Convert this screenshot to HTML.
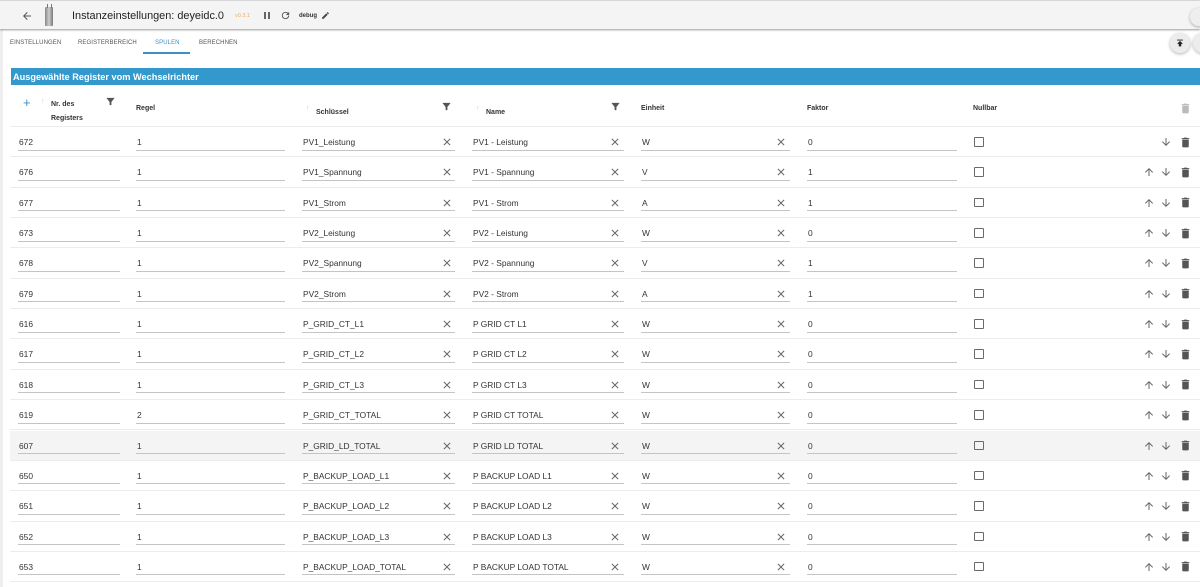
<!DOCTYPE html>
<html><head><meta charset="utf-8">
<style>
*{box-sizing:border-box;margin:0;padding:0}
body{width:1200px;height:587px;overflow:hidden;background:#fff;font-family:"Liberation Sans",Arial,sans-serif;color:#333;position:relative}
.a{position:absolute}
.top{left:0;top:0;width:1200px;height:29px;background:#f4f4f4;border-top:1px solid #d6d6d6;box-shadow:0 1px 2px rgba(0,0,0,.4)}
.tab{position:absolute;top:40px;font-size:6px;color:#555;letter-spacing:.1px}
.hd{position:absolute;font-size:7px;font-weight:bold;color:#333}
.row{position:absolute;left:10px;width:1190px;height:30.35px;border-bottom:1px solid #ececec}
.f{position:absolute;top:10px;height:13.5px;border-bottom:1px solid #c4c4c4;font-size:8.4px;line-height:10px;padding-left:1px;color:#333}
.x{position:absolute;top:9px;left:431px;width:12px;height:12px}
.cb{position:absolute;left:964px;top:10px;width:9.5px;height:9.5px;border:1.3px solid #6a6a6a;border-radius:1px}
.ic{position:absolute;top:9px;width:12px;height:12px}
.tr{position:absolute;top:8.5px;left:1168.5px;width:13px;height:13px}
</style></head><body>
<div class="a" style="left:0;top:29px;width:3px;height:558px;background:#eee"></div>
<div class="a top"></div>
<svg class="a" style="left:21px;top:10px" width="12" height="12" viewBox="0 0 24 24"><path d="M20 11H7.8l5.6-5.6L12 4l-8 8 8 8 1.4-1.4L7.8 13H20z" fill="#555"/></svg>
<div class="a" style="left:45px;top:7px;width:8px;height:19px;background:linear-gradient(90deg,#888,#ccc,#777);border-radius:1px"></div>
<div class="a" style="left:47px;top:4px;width:1px;height:4px;background:#777"></div>
<div class="a" style="left:51px;top:4px;width:1px;height:4px;background:#777"></div>
<div class="a" style="left:72px;top:9.5px;font-size:10.9px;line-height:12px;color:#222">Instanzeinstellungen: deyeidc.0</div>
<div class="a" style="left:235px;top:13px;font-size:5.5px;color:#f0b060">v0.3.1</div>
<div class="a" style="left:264px;top:12px;width:2px;height:7px;background:#666"></div>
<div class="a" style="left:268px;top:12px;width:2px;height:7px;background:#666"></div>
<svg class="a" style="left:280px;top:10px" width="11" height="11" viewBox="0 0 24 24"><path d="M17.65 6.35A7.96 7.96 0 0012 4a8 8 0 108 8h-2a6 6 0 11-1.76-4.24L13 11h7V4z" fill="#555"/></svg>
<div class="a" style="left:299px;top:12.5px;font-size:6px;font-weight:bold;color:#333">debug</div>
<svg class="a" style="left:321px;top:11px" width="9" height="9" viewBox="0 0 24 24"><path d="M3 17.25V21h3.75L17.8 9.94l-3.750-3.75zM20.7 7.04a1 1 0 000-1.41l-2.34-2.34a1 1 0 00-1.41 0l-1.83 1.83 3.75 3.75z" fill="#444"/></svg>
<div class="a" style="left:1190px;top:8px;width:18px;height:18px;border-radius:50%;background:#eee;box-shadow:0 1px 3px rgba(0,0,0,.3)"></div>

<div class="tab" style="left:10px">EINSTELLUNGEN</div>
<div class="tab" style="left:78px">REGISTERBEREICH</div>
<div class="tab" style="left:155px;color:#3d8fc9">SPULEN</div>
<div class="tab" style="left:199px">BERECHNEN</div>
<div class="a" style="left:143px;top:52px;width:47px;height:1.5px;background:#3d8fc9"></div>

<div class="a" style="left:1170px;top:33px;width:20px;height:20px;border-radius:50%;background:#ececec;box-shadow:0 1px 3px rgba(0,0,0,.3)"></div>
<svg class="a" style="left:1175px;top:38px" width="10" height="10" viewBox="0 0 24 24"><path d="M5 4h14v2H5zm0 10h4v6h6v-6h4l-7-7z" fill="#222"/></svg>
<div class="a" style="left:1193px;top:33px;width:20px;height:20px;border-radius:50%;background:#ececec;box-shadow:0 1px 3px rgba(0,0,0,.3)"></div>

<div class="a" style="left:11px;top:68px;width:1189px;height:17px;background:#3399cc"></div>
<div class="a" style="left:13px;top:71.5px;font-size:9.2px;font-weight:bold;color:#fff;line-height:10px">Ausgewählte Register vom Wechselrichter</div>

<div class="a" style="left:10px;top:126px;width:1190px;height:1px;background:#ececec"></div>
<div class="a" style="left:23px;top:96px;font-size:13px;color:#3d8fc9;line-height:14px">+</div>
<div class="a" style="left:41px;top:98px;font-size:7px;color:#ccc">↑</div>
<div class="hd" style="left:51px;top:100.5px">Nr. des</div>
<div class="hd" style="left:51px;top:114.5px">Registers</div>
<svg class="a" style="left:105px;top:96px" width="11" height="11" viewBox="0 0 24 24"><path d="M3 4h18l-7 9v7h-4v-7z" fill="#555"/></svg>
<div class="hd" style="left:136px;top:104.5px">Regel</div>
<div class="a" style="left:306px;top:105px;font-size:7px;color:#ccc">↑</div>
<div class="hd" style="left:316px;top:108.5px">Schlüssel</div>
<svg class="a" style="left:441px;top:101px" width="11" height="11" viewBox="0 0 24 24"><path d="M3 4h18l-7 9v7h-4v-7z" fill="#555"/></svg>
<div class="a" style="left:476px;top:105px;font-size:7px;color:#ccc">↑</div>
<div class="hd" style="left:486px;top:108.5px">Name</div>
<svg class="a" style="left:610px;top:101px" width="11" height="11" viewBox="0 0 24 24"><path d="M3 4h18l-7 9v7h-4v-7z" fill="#555"/></svg>
<div class="hd" style="left:641px;top:104.5px">Einheit</div>
<div class="hd" style="left:807px;top:104.5px">Faktor</div>
<div class="hd" style="left:973px;top:104.5px">Nullbar</div>
<svg class="a" style="left:1178.5px;top:101.5px" width="13" height="13" viewBox="0 0 24 24"><path d="M6 19a2 2 0 002 2h8a2 2 0 002-2V7H6zM19 4h-3.5l-1-1h-5l-1 1H5v2h14z" fill="#bbb"/></svg>

<svg width="0" height="0" style="position:absolute">
<defs>
<symbol id="X" viewBox="0 0 24 24"><path d="M19 6.4L17.6 5 12 10.6 6.4 5 5 6.4 10.6 12 5 17.6 6.4 19 12 13.4 17.6 19 19 17.6 13.4 12z" fill="#666"/></symbol>
<symbol id="U" viewBox="0 0 24 24"><path d="M4 12l1.4 1.4L11 7.8V20h2V7.8l5.6 5.6L20 12l-8-8z" fill="#666"/></symbol>
<symbol id="D" viewBox="0 0 24 24"><path d="M20 12l-1.4-1.4-5.6 5.6V4h-2v12.2l-5.6-5.6L4 12l8 8z" fill="#666"/></symbol>
<symbol id="T" viewBox="0 0 24 24"><path d="M6 19a2 2 0 002 2h8a2 2 0 002-2V7H6zM19 4h-3.5l-1-1h-5l-1 1H5v2h14z" fill="#555"/></symbol>
</defs></svg>

<div class="row" style="top:127px"><div class="f" style="left:8px;width:102px">672</div><div class="f" style="left:126px;width:149px">1</div><div class="f" style="left:292px;width:153px">PV1_Leistung</div><svg class="x"><use href="#X"/></svg><div class="f" style="left:462px;width:152px">PV1 - Leistung</div><svg class="x" style="left:599px"><use href="#X"/></svg><div class="f" style="left:631px;width:149px">W</div><svg class="x" style="left:765px"><use href="#X"/></svg><div class="f" style="left:797px;width:150px">0</div><div class="cb"></div><svg class="ic" style="left:1150px"><use href="#D"/></svg><svg class="tr"><use href="#T"/></svg></div>

<div class="row" style="top:157.35px"><div class="f" style="left:8px;width:102px">676</div><div class="f" style="left:126px;width:149px">1</div><div class="f" style="left:292px;width:153px">PV1_Spannung</div><svg class="x"><use href="#X"/></svg><div class="f" style="left:462px;width:152px">PV1 - Spannung</div><svg class="x" style="left:599px"><use href="#X"/></svg><div class="f" style="left:631px;width:149px">V</div><svg class="x" style="left:765px"><use href="#X"/></svg><div class="f" style="left:797px;width:150px">1</div><div class="cb"></div><svg class="ic" style="left:1133px"><use href="#U"/></svg><svg class="ic" style="left:1150px"><use href="#D"/></svg><svg class="tr"><use href="#T"/></svg></div>

<div class="row" style="top:187.7px"><div class="f" style="left:8px;width:102px">677</div><div class="f" style="left:126px;width:149px">1</div><div class="f" style="left:292px;width:153px">PV1_Strom</div><svg class="x"><use href="#X"/></svg><div class="f" style="left:462px;width:152px">PV1 - Strom</div><svg class="x" style="left:599px"><use href="#X"/></svg><div class="f" style="left:631px;width:149px">A</div><svg class="x" style="left:765px"><use href="#X"/></svg><div class="f" style="left:797px;width:150px">1</div><div class="cb"></div><svg class="ic" style="left:1133px"><use href="#U"/></svg><svg class="ic" style="left:1150px"><use href="#D"/></svg><svg class="tr"><use href="#T"/></svg></div>

<div class="row" style="top:218.05px"><div class="f" style="left:8px;width:102px">673</div><div class="f" style="left:126px;width:149px">1</div><div class="f" style="left:292px;width:153px">PV2_Leistung</div><svg class="x"><use href="#X"/></svg><div class="f" style="left:462px;width:152px">PV2 - Leistung</div><svg class="x" style="left:599px"><use href="#X"/></svg><div class="f" style="left:631px;width:149px">W</div><svg class="x" style="left:765px"><use href="#X"/></svg><div class="f" style="left:797px;width:150px">0</div><div class="cb"></div><svg class="ic" style="left:1133px"><use href="#U"/></svg><svg class="ic" style="left:1150px"><use href="#D"/></svg><svg class="tr"><use href="#T"/></svg></div>

<div class="row" style="top:248.4px"><div class="f" style="left:8px;width:102px">678</div><div class="f" style="left:126px;width:149px">1</div><div class="f" style="left:292px;width:153px">PV2_Spannung</div><svg class="x"><use href="#X"/></svg><div class="f" style="left:462px;width:152px">PV2 - Spannung</div><svg class="x" style="left:599px"><use href="#X"/></svg><div class="f" style="left:631px;width:149px">V</div><svg class="x" style="left:765px"><use href="#X"/></svg><div class="f" style="left:797px;width:150px">1</div><div class="cb"></div><svg class="ic" style="left:1133px"><use href="#U"/></svg><svg class="ic" style="left:1150px"><use href="#D"/></svg><svg class="tr"><use href="#T"/></svg></div>

<div class="row" style="top:278.75px"><div class="f" style="left:8px;width:102px">679</div><div class="f" style="left:126px;width:149px">1</div><div class="f" style="left:292px;width:153px">PV2_Strom</div><svg class="x"><use href="#X"/></svg><div class="f" style="left:462px;width:152px">PV2 - Strom</div><svg class="x" style="left:599px"><use href="#X"/></svg><div class="f" style="left:631px;width:149px">A</div><svg class="x" style="left:765px"><use href="#X"/></svg><div class="f" style="left:797px;width:150px">1</div><div class="cb"></div><svg class="ic" style="left:1133px"><use href="#U"/></svg><svg class="ic" style="left:1150px"><use href="#D"/></svg><svg class="tr"><use href="#T"/></svg></div>

<div class="row" style="top:309.1px"><div class="f" style="left:8px;width:102px">616</div><div class="f" style="left:126px;width:149px">1</div><div class="f" style="left:292px;width:153px">P_GRID_CT_L1</div><svg class="x"><use href="#X"/></svg><div class="f" style="left:462px;width:152px">P GRID CT L1</div><svg class="x" style="left:599px"><use href="#X"/></svg><div class="f" style="left:631px;width:149px">W</div><svg class="x" style="left:765px"><use href="#X"/></svg><div class="f" style="left:797px;width:150px">0</div><div class="cb"></div><svg class="ic" style="left:1133px"><use href="#U"/></svg><svg class="ic" style="left:1150px"><use href="#D"/></svg><svg class="tr"><use href="#T"/></svg></div>

<div class="row" style="top:339.45px"><div class="f" style="left:8px;width:102px">617</div><div class="f" style="left:126px;width:149px">1</div><div class="f" style="left:292px;width:153px">P_GRID_CT_L2</div><svg class="x"><use href="#X"/></svg><div class="f" style="left:462px;width:152px">P GRID CT L2</div><svg class="x" style="left:599px"><use href="#X"/></svg><div class="f" style="left:631px;width:149px">W</div><svg class="x" style="left:765px"><use href="#X"/></svg><div class="f" style="left:797px;width:150px">0</div><div class="cb"></div><svg class="ic" style="left:1133px"><use href="#U"/></svg><svg class="ic" style="left:1150px"><use href="#D"/></svg><svg class="tr"><use href="#T"/></svg></div>

<div class="row" style="top:369.8px"><div class="f" style="left:8px;width:102px">618</div><div class="f" style="left:126px;width:149px">1</div><div class="f" style="left:292px;width:153px">P_GRID_CT_L3</div><svg class="x"><use href="#X"/></svg><div class="f" style="left:462px;width:152px">P GRID CT L3</div><svg class="x" style="left:599px"><use href="#X"/></svg><div class="f" style="left:631px;width:149px">W</div><svg class="x" style="left:765px"><use href="#X"/></svg><div class="f" style="left:797px;width:150px">0</div><div class="cb"></div><svg class="ic" style="left:1133px"><use href="#U"/></svg><svg class="ic" style="left:1150px"><use href="#D"/></svg><svg class="tr"><use href="#T"/></svg></div>

<div class="row" style="top:400.15px"><div class="f" style="left:8px;width:102px">619</div><div class="f" style="left:126px;width:149px">2</div><div class="f" style="left:292px;width:153px">P_GRID_CT_TOTAL</div><svg class="x"><use href="#X"/></svg><div class="f" style="left:462px;width:152px">P GRID CT TOTAL</div><svg class="x" style="left:599px"><use href="#X"/></svg><div class="f" style="left:631px;width:149px">W</div><svg class="x" style="left:765px"><use href="#X"/></svg><div class="f" style="left:797px;width:150px">0</div><div class="cb"></div><svg class="ic" style="left:1133px"><use href="#U"/></svg><svg class="ic" style="left:1150px"><use href="#D"/></svg><svg class="tr"><use href="#T"/></svg></div>

<div class="row" style="top:430.5px;background:#f4f4f4"><div class="f" style="left:8px;width:102px">607</div><div class="f" style="left:126px;width:149px">1</div><div class="f" style="left:292px;width:153px">P_GRID_LD_TOTAL</div><svg class="x"><use href="#X"/></svg><div class="f" style="left:462px;width:152px">P GRID LD TOTAL</div><svg class="x" style="left:599px"><use href="#X"/></svg><div class="f" style="left:631px;width:149px">W</div><svg class="x" style="left:765px"><use href="#X"/></svg><div class="f" style="left:797px;width:150px">0</div><div class="cb"></div><svg class="ic" style="left:1133px"><use href="#U"/></svg><svg class="ic" style="left:1150px"><use href="#D"/></svg><svg class="tr"><use href="#T"/></svg></div>

<div class="row" style="top:460.85px"><div class="f" style="left:8px;width:102px">650</div><div class="f" style="left:126px;width:149px">1</div><div class="f" style="left:292px;width:153px">P_BACKUP_LOAD_L1</div><svg class="x"><use href="#X"/></svg><div class="f" style="left:462px;width:152px">P BACKUP LOAD L1</div><svg class="x" style="left:599px"><use href="#X"/></svg><div class="f" style="left:631px;width:149px">W</div><svg class="x" style="left:765px"><use href="#X"/></svg><div class="f" style="left:797px;width:150px">0</div><div class="cb"></div><svg class="ic" style="left:1133px"><use href="#U"/></svg><svg class="ic" style="left:1150px"><use href="#D"/></svg><svg class="tr"><use href="#T"/></svg></div>

<div class="row" style="top:491.2px"><div class="f" style="left:8px;width:102px">651</div><div class="f" style="left:126px;width:149px">1</div><div class="f" style="left:292px;width:153px">P_BACKUP_LOAD_L2</div><svg class="x"><use href="#X"/></svg><div class="f" style="left:462px;width:152px">P BACKUP LOAD L2</div><svg class="x" style="left:599px"><use href="#X"/></svg><div class="f" style="left:631px;width:149px">W</div><svg class="x" style="left:765px"><use href="#X"/></svg><div class="f" style="left:797px;width:150px">0</div><div class="cb"></div><svg class="ic" style="left:1133px"><use href="#U"/></svg><svg class="ic" style="left:1150px"><use href="#D"/></svg><svg class="tr"><use href="#T"/></svg></div>

<div class="row" style="top:521.55px"><div class="f" style="left:8px;width:102px">652</div><div class="f" style="left:126px;width:149px">1</div><div class="f" style="left:292px;width:153px">P_BACKUP_LOAD_L3</div><svg class="x"><use href="#X"/></svg><div class="f" style="left:462px;width:152px">P BACKUP LOAD L3</div><svg class="x" style="left:599px"><use href="#X"/></svg><div class="f" style="left:631px;width:149px">W</div><svg class="x" style="left:765px"><use href="#X"/></svg><div class="f" style="left:797px;width:150px">0</div><div class="cb"></div><svg class="ic" style="left:1133px"><use href="#U"/></svg><svg class="ic" style="left:1150px"><use href="#D"/></svg><svg class="tr"><use href="#T"/></svg></div>

<div class="row" style="top:551.9px"><div class="f" style="left:8px;width:102px">653</div><div class="f" style="left:126px;width:149px">1</div><div class="f" style="left:292px;width:153px">P_BACKUP_LOAD_TOTAL</div><svg class="x"><use href="#X"/></svg><div class="f" style="left:462px;width:152px">P BACKUP LOAD TOTAL</div><svg class="x" style="left:599px"><use href="#X"/></svg><div class="f" style="left:631px;width:149px">W</div><svg class="x" style="left:765px"><use href="#X"/></svg><div class="f" style="left:797px;width:150px">0</div><div class="cb"></div><svg class="ic" style="left:1133px"><use href="#U"/></svg><svg class="ic" style="left:1150px"><use href="#D"/></svg><svg class="tr"><use href="#T"/></svg></div>

</body></html>
